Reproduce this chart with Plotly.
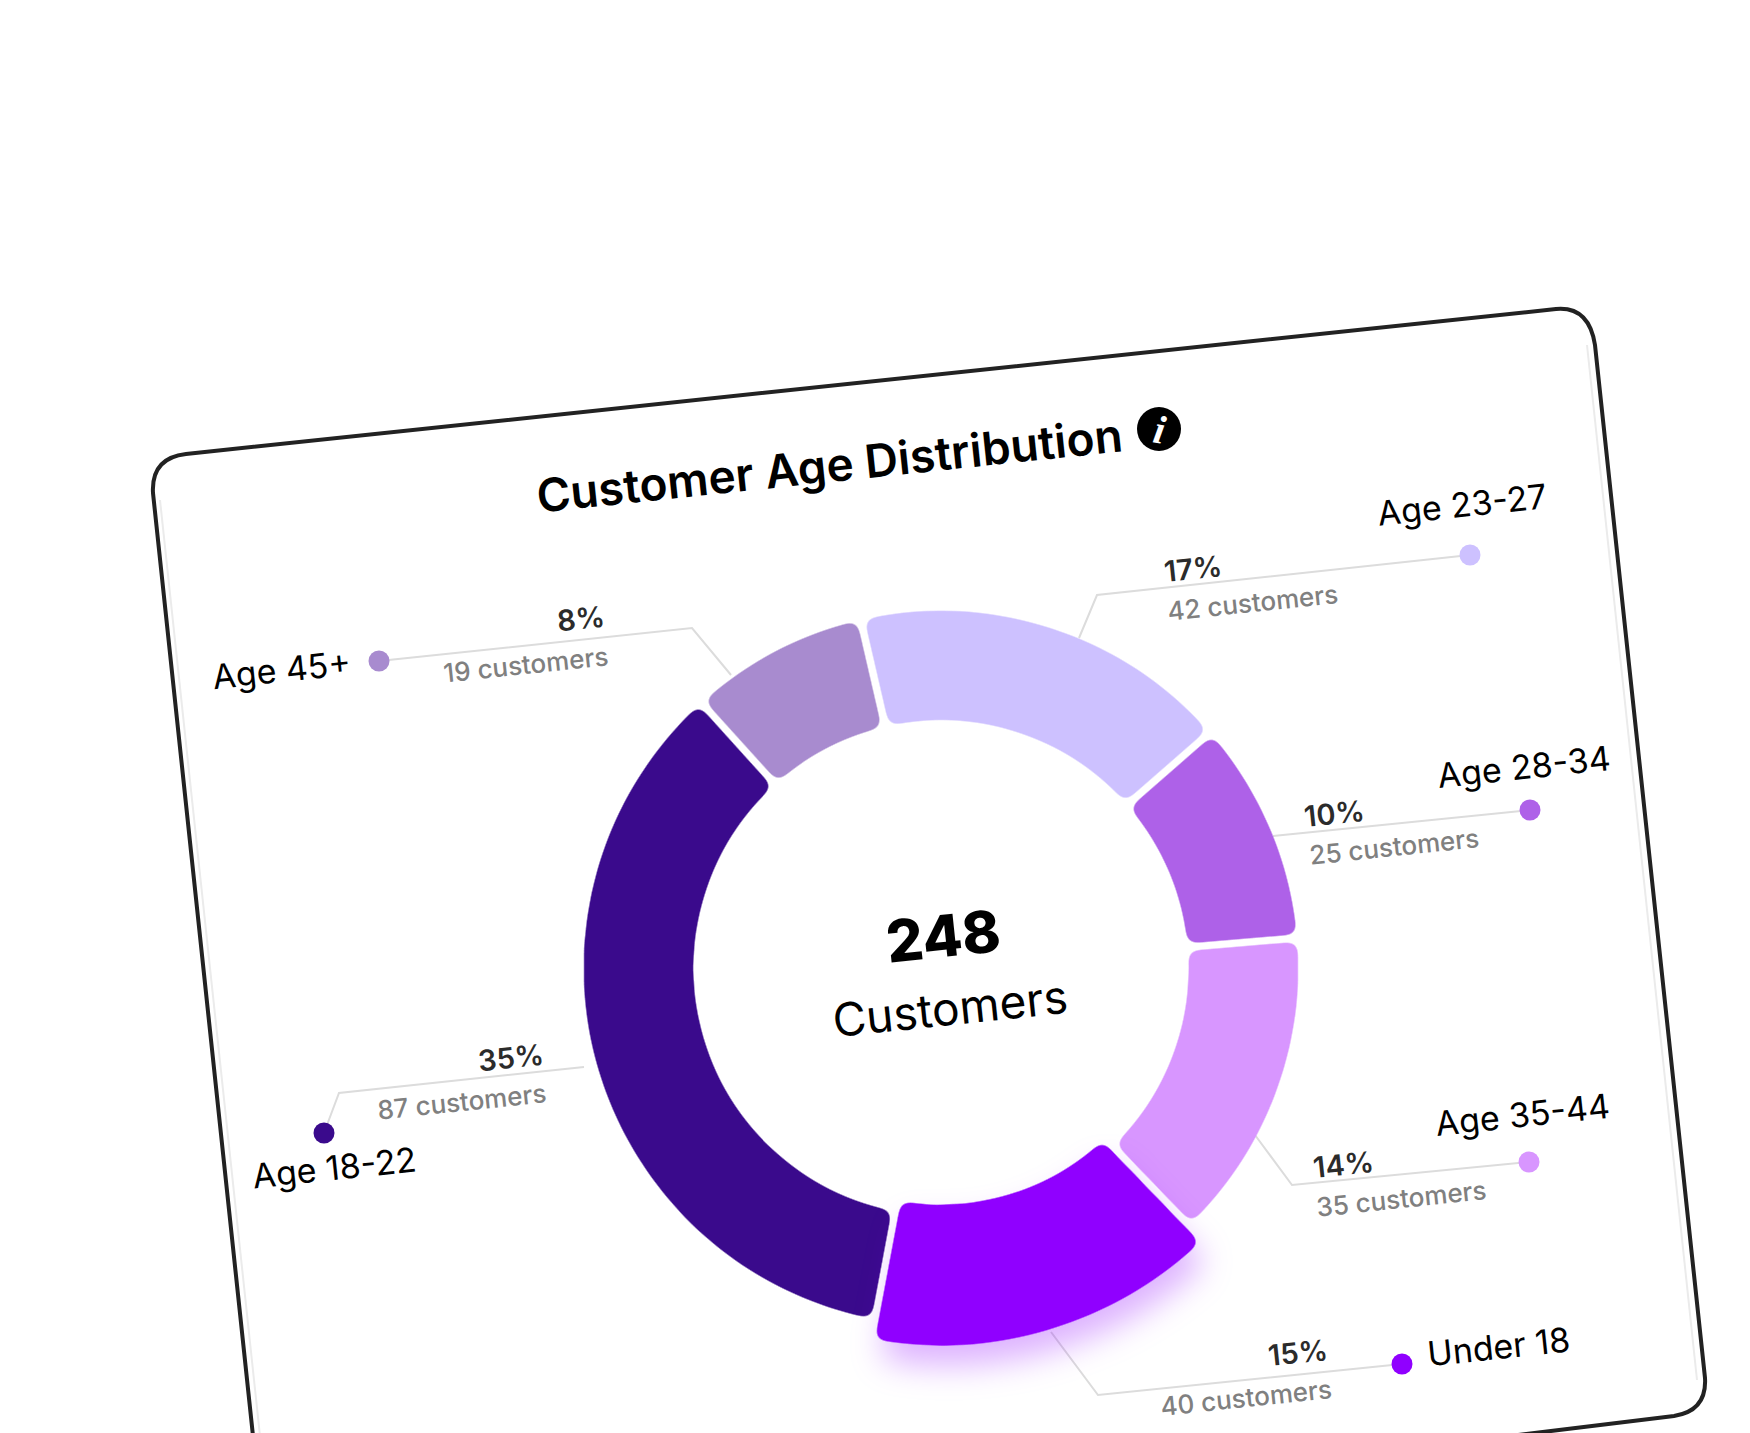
import plotly.graph_objects as go

# chart values
age_groups = ["Age 23-27", "Age 28-34", "Age 35-44", "Under 18", "Age 18-22", "Age 45+"]
customers = [42, 25, 35, 40, 87, 19]
percents = [17, 10, 14, 15, 35, 8]
total_customers = 248

# styles and page positions (px on a 1750x1433 page)
colors = ["#CDC1FF", "#AE61E8", "#D896FF", "#9000FF", "#3A0A8C", "#A88BCF"]
W, H = 1750, 1433
TILT = -6
CX, CY = 941, 968
GAP = 8
START = 347
BIG = "Under 18"
DX, DY = -2, -2

name_pos = [(1464, 506), (1526, 768), (1524, 1116), (1500, 1348), (336, 1169), (283, 671)]
pct_pos = [(1195, 570), (1336, 815), (1345, 1166), (1300, 1354), (513, 1059), (583, 620)]
count_pos = [(1254, 604), (1396, 848), (1403, 1200), (1248, 1399), (464, 1103), (527, 666)]
leaders = [
    [(1470, 555), (1097, 595), (1079, 638)],
    [(1530, 810), (1273, 836)],
    [(1529, 1162), (1292, 1185), (1255, 1135)],
    [(1402, 1364), (1098, 1395), (1051, 1332)],
    [(324, 1133), (339, 1093), (584, 1067)],
    [(379, 661), (692, 628), (731, 675)],
]

frame = "M 186,454 L 1556,309 Q 1589,306 1595,345 L 1705,1378 Q 1707,1411 1674,1416 L 1510,1436 L 253,1436 L 153,493 Q 151,458 186,454 Z"
frame_inner_left = "M 160,500 L 260,1436"
frame_inner_right = "M 1587,345 L 1697,1380"


def domain(r):
    return dict(x=[(CX - r) / W, (CX + r) / W], y=[1 - (CY + r) / H, 1 - (CY - r) / H])


fig = go.Figure()

# ring, the enlarged slice is left out here and drawn by the second pie
ring_colors = ["rgba(0,0,0,0)" if a == BIG else c for a, c in zip(age_groups, colors)]
ring_widths = [0 if a == BIG else GAP for a in age_groups]
fig.add_trace(go.Pie(labels=age_groups, values=percents, sort=False, direction="clockwise",
                     rotation=START, hole=244 / 361, domain=domain(361), textinfo="none",
                     showlegend=False, hoverinfo="label+value",
                     marker=dict(colors=ring_colors, line=dict(color="white", width=ring_widths))))

big_colors = [c if a == BIG else "rgba(0,0,0,0)" for a, c in zip(age_groups, colors)]
big_widths = [GAP if a == BIG else 0 for a in age_groups]
fig.add_trace(go.Pie(labels=age_groups, values=percents, sort=False, direction="clockwise",
                     rotation=START, hole=233 / 381, domain=domain(381), textinfo="none",
                     showlegend=False, hoverinfo="label+value",
                     marker=dict(colors=big_colors, line=dict(color="white", width=big_widths))))

# leader lines and dots
for pts, c in zip(leaders, colors):
    fig.add_trace(go.Scatter(x=[p[0] for p in pts], y=[p[1] for p in pts], mode="lines",
                             line=dict(color="#DCDCDC", width=2), showlegend=False, hoverinfo="skip"))
    fig.add_trace(go.Scatter(x=[pts[0][0]], y=[pts[0][1]], mode="markers",
                             marker=dict(color=c, size=21), showlegend=False, hoverinfo="skip"))

# info icon
fig.add_trace(go.Scatter(x=[1159], y=[429], mode="markers", marker=dict(color="black", size=44),
                         showlegend=False, hoverinfo="skip"))


def label(x, y, text, size, color="black", family="Inter", weight=400, style="normal", angle=TILT):
    fig.add_annotation(x=x + DX, y=y + DY, text=text, showarrow=False, textangle=angle,
                       font=dict(size=size, color=color, family=family, weight=weight, style=style))


label(831, 467, "Customer Age Distribution", 46, weight=600)
label(1161, 431, "i", 40, color="white", family="Liberation Serif", weight=700, style="italic", angle=10)
label(945, 938, str(total_customers), 58, weight=800)
label(952, 1010, "Customers", 46)

for i, a in enumerate(age_groups):
    label(name_pos[i][0], name_pos[i][1], a, 34)
    label(pct_pos[i][0], pct_pos[i][1], f"{percents[i]}%", 29, color="#2B2B2B", weight=600)
    label(count_pos[i][0], count_pos[i][1], f"{customers[i]} customers", 26, color="#808080", weight=500)

fig.update_layout(
    width=W, height=H, margin=dict(l=0, r=0, t=0, b=0),
    paper_bgcolor="white", plot_bgcolor="rgba(0,0,0,0)",
    xaxis=dict(range=[0, W], visible=False, fixedrange=True),
    yaxis=dict(range=[H, 0], visible=False, fixedrange=True),
    shapes=[
        dict(type="path", path=frame_inner_left, line=dict(color="#EBEBEB", width=2), layer="below"),
        dict(type="path", path=frame_inner_right, line=dict(color="#EBEBEB", width=2), layer="below"),
        dict(type="path", path=frame, line=dict(color="#222222", width=4), layer="below"),
    ],
)

# plotly pies have square corners: an svg filter rounds each slice and adds the glow
big_index = age_groups.index(BIG)
round_js = """
document.body.style.margin = '0';
var colors = %s, bigIndex = %d, defs = '';
colors.forEach(function (c, i) {
  defs += '<filter id="rnd' + i + '" x="-20%%" y="-20%%" width="140%%" height="150%%" color-interpolation-filters="sRGB">'
    + '<feColorMatrix values="0 0 0 0 0  0 0 0 0 0  0 0 0 0 0  0 -6 0 6 0"/>'
    + '<feGaussianBlur stdDeviation="6"/>'
    + '<feComponentTransfer result="shape"><feFuncA type="linear" slope="10" intercept="-4.5"/></feComponentTransfer>'
    + '<feFlood flood-color="' + c + '"/><feComposite in2="shape" operator="in"/></filter>';
});
var holder = document.createElement('div');
holder.innerHTML = '<svg width="0" height="0" style="position:absolute">' + defs + '</svg>';
document.body.appendChild(holder);
document.querySelectorAll('.pielayer .trace').forEach(function (tr, t) {
  tr.querySelectorAll('.slice path').forEach(function (p, i) {
    if ((i === bigIndex) !== (t === 1)) { return; }
    var f = 'url(#rnd' + i + ')';
    if (t === 1) { f += ' drop-shadow(6px 20px 16px rgba(144,0,255,0.3))'; }
    p.style.filter = f;
  });
});
""" % (str(colors), big_index)
fig.write_html("out.html", post_script=round_js, config=dict(displayModeBar=False))
